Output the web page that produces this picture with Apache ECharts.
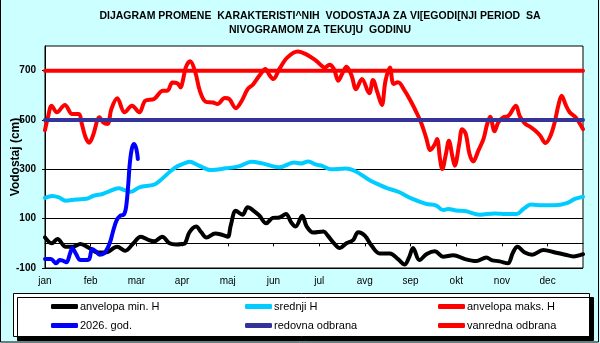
<!DOCTYPE html>
<html>
<head>
<meta charset="utf-8">
<script src="https://cdn.jsdelivr.net/npm/echarts@6/dist/echarts.min.js"></script>
<style>
  html, body { margin: 0; padding: 0; background: #ccffff; }
  #chart { width: 600px; height: 343px; }
</style>
</head>
<body>
<div id="chart"></div>
<script>
// Month labels on the day-of-year axis (one tick every 31 days)
const months = ['jan', 'feb', 'mar', 'apr', 'maj', 'jun', 'jul', 'avg', 'sep', 'okt', 'nov', 'dec'];
const yTicks = [-100, 100, 300, 500, 700];

// anvelopa min. H
const minDays = [0, 4.5, 8.5, 14, 18.5, 24, 30, 35.5, 41, 49, 54.5, 59.5, 65, 70.5, 74, 79.5, 84.5, 89, 93, 95, 98, 102.5, 106, 109.5, 115.5, 120.5, 124, 126, 129.5, 134, 137.5, 142, 145.5, 150, 154.5, 159, 163.5, 167, 170, 174.5, 177.5, 182, 189, 192, 195.5, 200, 204.5, 209, 212.5, 217, 221.5, 227, 234, 239.5, 244, 247, 249.7, 254, 259, 264.5, 270, 277, 285, 292.5, 299.5, 303, 308.5, 314, 317.5, 320.5, 325.5, 330.5, 338, 346, 353, 358.5, 365];
const minVals = [24, 0, 18, -14, -14, -3, -19, -37, -37, -14, -30, -3, 27, 13, 8, 27, 0, -5, -3, 0, 45, 68, 45, 24, 40, 34, 27, 72, 132, 116, 146, 130, 112, 81, 103, 105, 119, 85, 68, 112, 69, 44, 48, 30, 4, -19, 0, 13, 45, 31, -9, -41, -41, -64, -86, -57, -19, -68, -43, -32, -54, -48, -64, -72, -57, -68, -73, -81, -37, -14, -37, -46, -27, -37, -46, -53, -44];

// srednji H
const midDays = [0, 5, 9.5, 14, 21, 29, 33, 39, 43.5, 50, 54, 58, 64, 74, 78.5, 85.5, 90, 95, 98, 104.5, 112.5, 122.5, 132, 140, 147.5, 159, 169, 174, 178.5, 184, 188, 194, 204, 211, 220, 228, 232, 240.5, 248.5, 258.5, 265.5, 270, 273.5, 279, 285, 295, 305, 313, 320, 324.5, 330, 337, 346, 354, 359.5, 365];
const midVals = [184, 192, 186, 173, 178, 182, 193, 200, 211, 223, 216, 209, 227, 238, 257, 294, 313, 325, 331, 315, 297, 304, 313, 331, 324, 308, 328, 324, 332, 319, 314, 300, 303, 291, 257, 234, 224, 207, 182, 160, 153, 135, 139, 133, 131, 116, 121, 119, 119, 139, 157, 154, 154, 163, 180, 189];

// anvelopa maks. H
const maxDays = [0, 2, 4.5, 8, 13.5, 18.5, 23, 25, 27.5, 30, 32.5, 37, 39.5, 42.5, 45, 49, 54, 59, 64, 68, 74, 80, 83, 86.5, 90, 92, 93.5, 95.5, 98.5, 102, 105, 109, 114, 117, 122, 125, 129.5, 133.5, 137.5, 141, 145.5, 149.5, 152.5, 155, 159, 164.5, 171.5, 177, 184, 190, 193, 196, 199, 202, 204.5, 208, 211, 215, 220, 222.5, 225.5, 228.5, 231, 234, 236.5, 239.5, 244, 248, 252, 255.5, 258.5, 261.5, 264.5, 266, 268, 269.5, 272, 274, 276.5, 278, 281, 283, 285.5, 288, 290.5, 294, 297.5, 300, 302, 305, 307.5, 311, 314.5, 319.5, 322, 325.5, 329, 332.5, 336, 339.5, 342.5, 345.5, 348.5, 350.5, 353.5, 356, 360, 363, 365];
const maxVals = [459, 511, 558, 531, 561, 524, 524, 484, 430, 408, 436, 511, 490, 484, 544, 588, 531, 558, 531, 578, 585, 619, 619, 652, 648, 632, 659, 713, 738, 693, 619, 574, 571, 565, 589, 585, 548, 578, 625, 643, 680, 707, 680, 666, 707, 754, 778, 767, 740, 713, 724, 707, 659, 693, 716, 680, 625, 666, 608, 662, 612, 561, 659, 713, 646, 653, 619, 578, 531, 484, 430, 378, 402, 423, 342, 301, 362, 416, 349, 315, 402, 463, 443, 362, 332, 376, 423, 484, 513, 454, 490, 511, 517, 558, 517, 486, 473, 457, 436, 407, 430, 484, 565, 598, 558, 531, 511, 484, 463];

// 2026. god.
const curDays = [0, 4, 7.5, 10, 12, 14.5, 17, 18.5, 21, 24, 27.5, 30, 32, 34.5, 37, 40, 42.5, 44.5, 46, 48.5, 51, 53.5, 55, 56.5, 57.5, 59, 60.5, 62, 63];
const curVals = [-64, -64, -81, -68, -70, -77, -41, -19, -43, -68, -68, -64, -23, -32, -46, -41, -19, 11, 45, 92, 112, 116, 146, 240, 322, 386, 403, 382, 342];

// flood-defence levels
const redovnaLevel = 500;
const vanrednaLevel = 700;
const yearDays = [0, 365];

const pairs = (days, vals) => days.map((d, i) => [d, vals[i]]);
const flat = (level) => yearDays.map(d => [d, level]);

const FONT = '"Liberation Sans", Arial, sans-serif';

function lineSeries(name, color, data, smooth) {
  return {
    name: name,
    type: 'line',
    data: data,
    smooth: smooth,
    symbol: 'none',
    lineStyle: { color: color, width: 4, cap: 'round', join: 'round' },
    itemStyle: { color: color },
    emphasis: { disabled: true },
    animation: false
  };
}

const chart = echarts.init(document.getElementById('chart'), null, { renderer: 'canvas' });

const legendBase = {
  orient: 'vertical',
  top: 296,
  itemWidth: 27,
  itemHeight: 5,
  itemGap: 8,
  icon: 'roundRect',
  selectedMode: false,
  textStyle: { fontFamily: FONT, fontSize: 11, color: '#000', padding: [0, 0, 0, -3] }
};

chart.setOption({
  backgroundColor: '#ccffff',
  animation: false,
  textStyle: { fontFamily: FONT },
  graphic: [
    {
      type: 'rect', z: -10, silent: true,
      shape: { x: 0.5, y: -5, width: 598, height: 347 },
      style: { fill: 'none', stroke: '#000', lineWidth: 1 }
    },
    {
      type: 'rect', z: -5, silent: true,
      shape: { x: 13.5, y: 293.5, width: 576, height: 43 },
      style: { fill: '#fff', stroke: '#000', lineWidth: 1, shadowColor: '#000', shadowOffsetX: 4, shadowOffsetY: 4, shadowBlur: 0 }
    },
    {
      type: 'text', silent: true,
      x: 320, y: 23,
      style: {
        text: 'DIJAGRAM PROMENE  KARAKTERISTI^NIH  VODOSTAJA ZA VI[EGODI[NJI PERIOD  SA\nNIVOGRAMOM ZA TEKU]U  GODINU',
        align: 'center', verticalAlign: 'middle',
        font: 'bold 10.5px ' + FONT, lineHeight: 14, fill: '#000'
      }
    }
  ],
  legend: [
    Object.assign({}, legendBase, { left: 46, data: ['anvelopa min. H', '2026. god.'] }),
    Object.assign({}, legendBase, { left: 240, data: ['srednji H', 'redovna odbrana'] }),
    Object.assign({}, legendBase, { left: 433, data: ['anvelopa maks. H', 'vanredna odbrana'] })
  ],
  grid: {
    left: 45, right: 17, top: 46, bottom: 75,
    outerBoundsMode: 'none',
    containLabel: false,
    show: true, backgroundColor: '#fff', borderColor: '#000', borderWidth: 1
  },
  xAxis: {
    type: 'value', min: 0, max: 365, interval: 31,
    axisLine: { show: true, lineStyle: { color: '#000', width: 1 } },
    axisTick: { show: true, length: 3, lineStyle: { color: '#000' } },
    axisLabel: {
      color: '#000', fontSize: 10, fontFamily: FONT, margin: 8,
      showMaxLabel: false,
      formatter: v => (v % 31 === 0 && v / 31 < 12) ? months[v / 31] : ''
    },
    splitLine: { show: false }
  },
  yAxis: {
    type: 'value', min: -100, max: 800,
    name: 'Vodostaj (cm)', nameLocation: 'middle', nameGap: 23,
    nameMoveOverlap: false,
    nameTextStyle: { fontFamily: FONT, fontSize: 12, fontWeight: 'bold', color: '#000' },
    axisLine: { show: true, lineStyle: { color: '#000', width: 1 } },
    axisTick: { show: true, length: 3, customValues: yTicks, lineStyle: { color: '#000' } },
    axisLabel: { customValues: yTicks, color: '#000', fontSize: 10, fontWeight: 'bold', fontFamily: FONT, margin: 9 },
    splitLine: { show: true, lineStyle: { color: '#000', width: 1 } }
  },
  series: [
    lineSeries('anvelopa min. H', '#000000', pairs(minDays, minVals), 0.35),
    lineSeries('srednji H', '#00ccff', pairs(midDays, midVals), 0.35),
    lineSeries('anvelopa maks. H', '#ff0000', pairs(maxDays, maxVals), 0.35),
    lineSeries('2026. god.', '#0000ff', pairs(curDays, curVals), 0.35),
    lineSeries('redovna odbrana', '#333399', flat(redovnaLevel), false),
    lineSeries('vanredna odbrana', '#ff0000', flat(vanrednaLevel), false)
  ]
});
</script>
</body>
</html>
